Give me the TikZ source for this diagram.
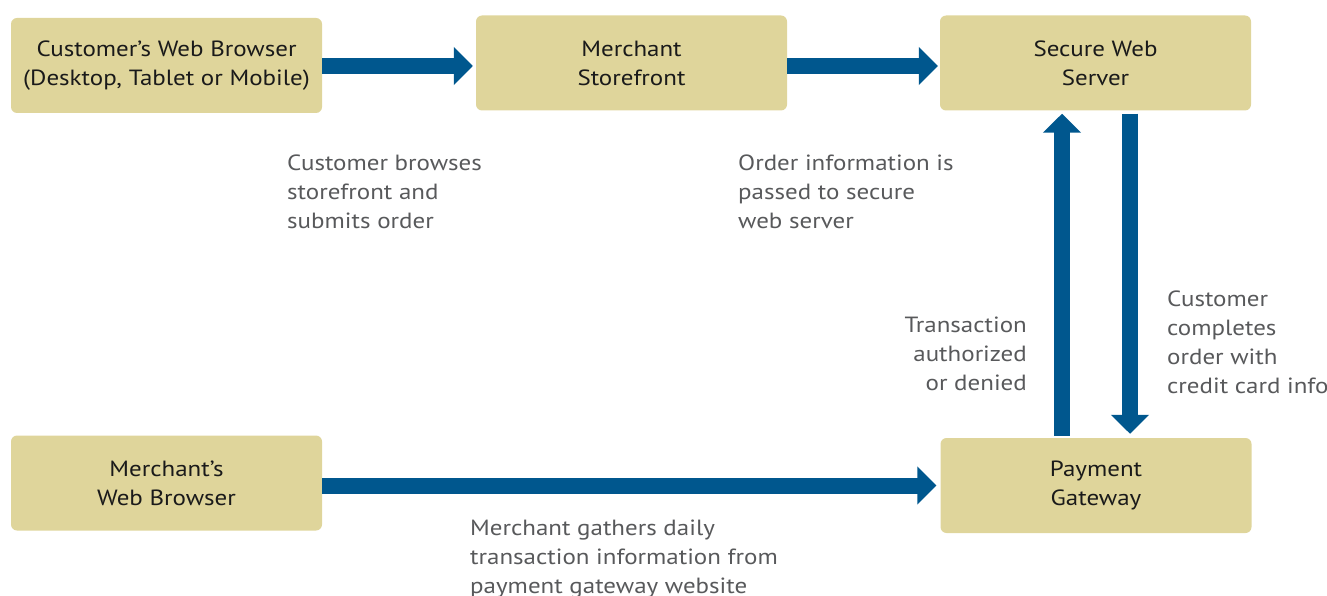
\documentclass[tikz,border=0pt]{standalone}
\usepackage{fontspec}
\setmainfont[FakeStretch=1.135]{PT Sans}
\usetikzlibrary{arrows.meta,calc}
\definecolor{boxfill}{HTML}{DFD59B}
\definecolor{arrowblue}{HTML}{00578E}
\definecolor{labelgray}{HTML}{58595B}
\definecolor{boxtext}{HTML}{1A1A1A}
\begin{document}
\begin{tikzpicture}[x=1pt,y=-1pt,
  box/.style={fill=boxfill, rounded corners=6pt, minimum width=311pt, minimum height=95pt,
    align=center, text=boxtext, inner sep=0pt, font=\fontsize{22}{29}\selectfont},
  flow/.style={draw=arrowblue, line width=16pt, -{Triangle[width=37pt,length=19pt]}},
  lbl/.style={text=labelgray, inner sep=0pt, font=\fontsize{22}{29}\selectfont, anchor=north west, align=left}]
\useasboundingbox (0,0) rectangle (1327,596);
\clip (0,0) rectangle (1327,596);
\node[box] (b1) at (166.5,65.5) {\raisebox{-1.5pt}{\parbox{300pt}{\centering Customer’s Web Browser\\(Desktop, Tablet or Mobile)}}};
\node[box] (b2) at (631.5,63) {\raisebox{-1.5pt}{\parbox{300pt}{\centering Merchant\\Storefront}}};
\node[box] (b3) at (1095.5,63) {\raisebox{-1.5pt}{\parbox{300pt}{\centering Secure Web\\Server}}};
\node[box] (b4) at (166.5,483) {\raisebox{-1.5pt}{\parbox{300pt}{\centering Merchant’s\\Web Browser}}};
\node[box] (b5) at (1096,485.5) {\raisebox{-1.5pt}{\parbox{300pt}{\centering Payment\\Gateway}}};
\draw[flow, shorten >=3pt] (b1.east |- 0,66) -- (b2.west |- 0,66);
\draw[flow, shorten >=2pt] (b2.east |- 0,66) -- (b3.west |- 0,66);
\draw[flow, shorten >=4pt] (b4.east |- b5) -- (b5.west);
\coordinate (upx) at ($(b5.north)+(-34,0)$);
\coordinate (dnx) at ($(b5.north)+(34,0)$);
\draw[flow, shorten <=2pt, shorten >=3pt] (upx) -- (upx |- b3.south);
\draw[flow, shorten <=3pt, shorten >=4pt] (dnx |- b3.south) -- (dnx);
\node[lbl] (l1) at (287,155) {Customer browses\\storefront and\\submits order};
\node[lbl] (l2) at (738,155) {Order information is\\passed to secure\\web server};
\node[lbl, anchor=north east, align=right] (l3) at (1027,317) {Transaction\\authorized\\or denied};
\node[lbl] (l4) at (1167,291) {Customer\\completes\\order with\\credit card info};
\node[lbl] (l5) at (470,520) {Merchant gathers daily\\transaction information from\\payment gateway website};
\end{tikzpicture}
\end{document}
